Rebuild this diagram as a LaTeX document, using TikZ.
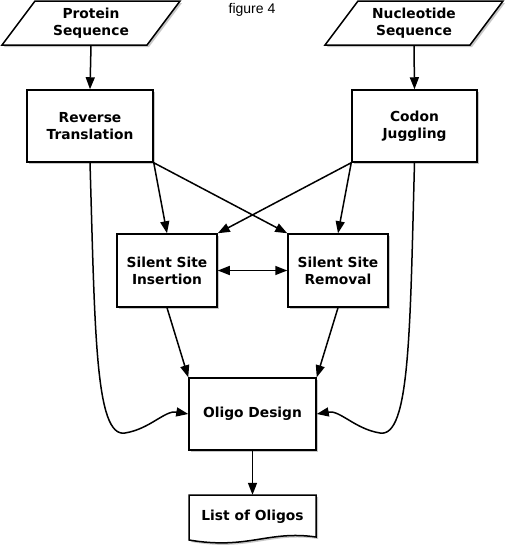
\documentclass[tikz,border=0pt]{standalone}
\usepackage{fontspec}
\setmainfont{DejaVu Sans}
\newfontfamily\capfont{Liberation Sans}
\usetikzlibrary{arrows.meta,shadows}
\begin{document}
\begin{tikzpicture}[x=1pt,y=-1pt,
  lbl/.style={font=\fontsize{13.8}{17}\selectfont\bfseries, align=center},
  box/.style={lbl, draw, line width=1.5pt, fill=white, rectangle, inner sep=0pt,
    general shadow={fill=black!22, shadow xshift=2pt, shadow yshift=-2pt}},
  io/.style={lbl, inner sep=0pt, minimum height=44pt},
  conn/.style={line width=1.5pt, -{Triangle[length=12pt,width=9pt]}},
  outline/.style={draw, line width=1.5pt, fill=white}]
\useasboundingbox (0,0) rectangle (504,549);

% parallelograms
\fill[black!22] (4,47) -- (149,47) -- (182,3) -- (37,3) -- cycle;
\draw[outline] (2,45) -- (147,45) -- (180,1) -- (35,1) -- cycle;
\fill[black!22] (327,47) -- (472,47) -- (505,3) -- (360,3) -- cycle;
\draw[outline] (325,45) -- (470,45) -- (503,1) -- (358,1) -- cycle;
\node[io, minimum width=110pt] (ps) at (91,23) {Protein\\Sequence};
\node[io, minimum width=110pt] (ns) at (414,23) {Nucleotide\\Sequence};

\node[font=\capfont\fontsize{14}{16}\selectfont] (cap) at (252,10) {figure 4};

\node[box, minimum width=126pt, minimum height=72pt] (rt) at (90,126) {Reverse\\Translation};
\node[box, minimum width=125pt, minimum height=72pt] (cj) at (414.5,126) {Codon\\Juggling};
\node[box, minimum width=100pt, minimum height=73pt] (ssi) at (167,270.5) {Silent Site\\Insertion};
\node[box, minimum width=100pt, minimum height=73pt] (ssr) at (338,270.5) {Silent Site\\Removal};
\node[box, minimum width=127pt, minimum height=72pt] (od) at (252.5,414) {Oligo Design};

% document shape
\fill[black!22] (191,497) -- (318,497) -- (318,539) .. controls (270,532) and (250,552) .. (191,542) -- cycle;
\draw[outline] (189,495) -- (316,495) -- (316,537) .. controls (268,530) and (248,550) .. (189,540) -- cycle;
\node[lbl, inner sep=0pt, minimum width=127pt, minimum height=44pt] (lo) at (252.5,517) {List of Oligos};

\draw[conn] (ps.south) -- (rt.north);
\draw[conn] (ns.south) -- (cj.north);
\draw[conn] (rt.south east) -- (ssi.north);
\draw[conn] (rt.south east) -- (ssr.north west);
\draw[conn] (cj.south west) -- (ssi.north east);
\draw[conn] (cj.south west) -- (ssr.north);
\draw[line width=1.5pt, {Triangle[length=12pt,width=9pt]}-{Triangle[length=12pt,width=9pt]}] (ssi.east) -- (ssr.west);
\draw[conn] (ssi.south) -- (od.north west);
\draw[conn] (ssr.south) -- (od.north east);
\draw[conn] (rt.south) .. controls (95,330) and (95,438) .. (125,433) .. controls (150,429) and (165,410) .. (od.west);
\draw[conn] (cj.south) .. controls (410,330) and (410,438) .. (380,433) .. controls (355,429) and (340,410) .. (od.east);
\draw[conn] (od.south) -- (lo.north);
\end{tikzpicture}
\end{document}
